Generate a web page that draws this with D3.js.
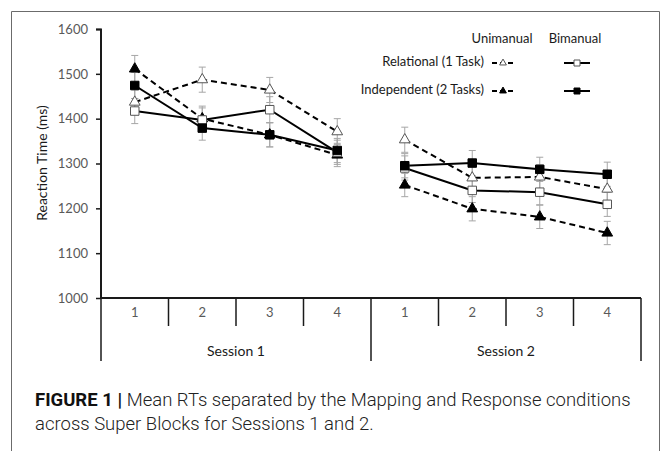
<!DOCTYPE html>
<html>
<head>
<meta charset="utf-8">
<script src="https://cdn.jsdelivr.net/npm/d3@7"></script>
<style>
  html, body { margin: 0; padding: 0; background: #fff; }
  svg { display: block; }
  .chart-text { font-family: Lato, "Liberation Sans", Arial, sans-serif; }
  .caption { font-family: Roboto, "Liberation Sans", Arial, sans-serif; }
</style>
</head>
<body>
<svg id="fig" width="670" height="451"></svg>
<script>
// Sessions and super blocks on the category axis
const sessions = ["Session 1", "Session 2"];
const blocks = ["1", "2", "3", "4"];
const yTicks = [1000, 1100, 1200, 1300, 1400, 1500, 1600];

// Mean RTs (ms) per super block, Session 1 blocks 1-4 then Session 2 blocks 1-4
const uniRelational = [1437, 1487, 1464, 1371, 1353, 1268, 1270, 1243];
const uniIndependent = [1511, 1400, 1364, 1319, 1252, 1199, 1181, 1145];
const biRelational = [1417, 1397, 1420, 1325, 1290, 1240, 1236, 1209];
const biIndependent = [1474, 1379, 1364, 1329, 1295, 1301, 1287, 1276];

// Error bar half-lengths (ms)
const uniRelationalErr = [27, 28, 28, 29, 28, 26, 27, 26];
const uniIndependentErr = [30, 28, 27, 26, 26, 27, 26, 26];
const biRelationalErr = [28, 27, 29, 27, 27, 27, 28, 27];
const biIndependentErr = [29, 27, 27, 27, 27, 28, 27, 27];

const svg = d3.select("#fig");

// Outer figure frame
svg.append("path")
  .attr("d", "M11.5,451 L11.5,11.5 L659.5,11.5 L659.5,451")
  .attr("fill", "none").attr("stroke", "#6b6b6b").attr("stroke-width", 1);

// Scales
const y = d3.scaleLinear().domain([1000, 1600]).range([298, 29]);
const catKeys = [];
sessions.forEach((s, si) => blocks.forEach(b => catKeys.push(si + "-" + b)));
const xBand = d3.scaleBand().domain(catKeys).range([101, 641]).padding(0);
const xc = i => xBand(catKeys[i]) + xBand.bandwidth() / 2;

// Y axis
const yAxis = d3.axisLeft(y).tickValues(yTicks).tickFormat(d3.format("d")).tickSize(5).tickPadding(8);
const gy = svg.append("g").attr("transform", "translate(101,0)").call(yAxis);
gy.select(".domain").attr("stroke", "#1a1a1a").attr("stroke-width", 2).attr("d", "M-5,29.5H0V298");
gy.selectAll(".tick line").attr("stroke", "#1a1a1a").attr("stroke-width", 1.5);
gy.selectAll(".tick text").attr("class", "chart-text").attr("fill", "#595959").attr("font-size", 13);

svg.append("text").attr("class", "chart-text")
  .attr("transform", "translate(43,163) rotate(-90)")
  .attr("text-anchor", "middle").attr("dominant-baseline", "middle")
  .attr("font-size", 14).attr("fill", "#1a1a1a")
  .text("Reaction Time (ms)");

// Category axis (table style)
const axisCol = "#1a1a1a";
const xEnd = xBand.range()[1];
const gx = svg.append("g");
gx.append("line").attr("x1", 100).attr("x2", xEnd).attr("y1", 298).attr("y2", 298)
  .attr("stroke", axisCol).attr("stroke-width", 2);
catKeys.forEach((c, i) => {
  const x0 = xBand(c);
  const isSessionEdge = i % blocks.length === 0;
  gx.append("line").attr("x1", x0).attr("x2", x0).attr("y1", 298)
    .attr("y2", isSessionEdge ? 361 : 326)
    .attr("stroke", axisCol).attr("stroke-width", 1.5);
  gx.append("text").attr("class", "chart-text")
    .attr("x", xc(i)).attr("y", 314)
    .attr("text-anchor", "middle").attr("dominant-baseline", "middle")
    .attr("font-size", 13).attr("fill", "#595959")
    .text(c.split("-")[1]);
});
gx.append("line").attr("x1", xEnd).attr("x2", xEnd).attr("y1", 298).attr("y2", 361)
  .attr("stroke", axisCol).attr("stroke-width", 1.5);
sessions.forEach((s, si) => {
  const a = xBand(si + "-" + blocks[0]);
  const b = xBand(si + "-" + blocks[blocks.length - 1]) + xBand.bandwidth();
  gx.append("text").attr("class", "chart-text")
    .attr("x", (a + b) / 2).attr("y", 352)
    .attr("text-anchor", "middle").attr("dominant-baseline", "middle")
    .attr("font-size", 14).attr("fill", "#1a1a1a")
    .text(s);
});

// Series definitions
const series = [
  { name: "uniRel", values: uniRelational, err: uniRelationalErr, dash: "6,4", marker: "tri", fill: "#fff" },
  { name: "uniInd", values: uniIndependent, err: uniIndependentErr, dash: "6,4", marker: "tri", fill: "#000" },
  { name: "biRel", values: biRelational, err: biRelationalErr, dash: null, marker: "sq", fill: "#fff" },
  { name: "biInd", values: biIndependent, err: biIndependentErr, dash: null, marker: "sq", fill: "#000" }
];

const triPath = d3.symbol().type(d3.symbolTriangle).size(50)();
const sqPath = d3.symbol().type(d3.symbolSquare).size(72)();

// Error bars
const gErr = svg.append("g");
series.forEach(s => {
  s.values.forEach((v, i) => {
    const cx = xc(i), e = s.err[i];
    gErr.append("line").attr("x1", cx).attr("x2", cx).attr("y1", y(v - e)).attr("y2", y(v + e))
      .attr("stroke", "#a6a6a6").attr("stroke-width", 1);
    [v - e, v + e].forEach(t => gErr.append("line")
      .attr("x1", cx - 3.5).attr("x2", cx + 3.5).attr("y1", y(t)).attr("y2", y(t))
      .attr("stroke", "#a6a6a6").attr("stroke-width", 1));
  });
});

// Lines, split per session
const line = d3.line().x(d => xc(d.i)).y(d => y(d.v));
const gLines = svg.append("g");
series.forEach(s => {
  sessions.forEach((_, si) => {
    const pts = s.values.map((v, i) => ({ v, i })).filter(d => Math.floor(d.i / blocks.length) === si);
    gLines.append("path").datum(pts).attr("d", line)
      .attr("fill", "none").attr("stroke", "#000").attr("stroke-width", 2)
      .attr("stroke-dasharray", s.dash);
  });
});

// Markers
const gMarks = svg.append("g");
series.forEach(s => {
  s.values.forEach((v, i) => {
    gMarks.append("path")
      .attr("d", s.marker === "tri" ? triPath : sqPath)
      .attr("transform", `translate(${xc(i)},${y(v)})`)
      .attr("fill", s.fill).attr("stroke", s.fill === "#fff" ? "#555" : "#000").attr("stroke-width", 1);
  });
});

// Legend
const lg = svg.append("g").attr("class", "chart-text");
lg.append("text").attr("x", 502).attr("y", 40).attr("text-anchor", "middle")
  .attr("dominant-baseline", "middle").attr("font-size", 13).attr("fill", "#1a1a1a").text("Unimanual");
lg.append("text").attr("x", 575).attr("y", 40).attr("text-anchor", "middle")
  .attr("dominant-baseline", "middle").attr("font-size", 13).attr("fill", "#1a1a1a").text("Bimanual");
const legendRows = [
  { label: "Relational (1 Task)", y: 63, uni: series[0], bi: series[2] },
  { label: "Independent (2 Tasks)", y: 91, uni: series[1], bi: series[3] }
];
const triSmall = d3.symbol().type(d3.symbolTriangle).size(20)();
const sqSmall = d3.symbol().type(d3.symbolSquare).size(36)();
legendRows.forEach(r => {
  lg.append("text").attr("x", 484).attr("y", r.y).attr("text-anchor", "end")
    .attr("dominant-baseline", "middle").attr("font-size", 13).attr("fill", "#1a1a1a").text(r.label);
  lg.append("line").attr("x1", 492).attr("x2", 514).attr("y1", r.y).attr("y2", r.y)
    .attr("stroke", "#000").attr("stroke-width", 2).attr("stroke-dasharray", "5,3");
  lg.append("path").attr("d", triSmall).attr("transform", `translate(503,${r.y})`)
    .attr("fill", r.uni.fill).attr("stroke", r.uni.fill === "#fff" ? "#555" : "#000").attr("stroke-width", 1);
  lg.append("line").attr("x1", 564).attr("x2", 590).attr("y1", r.y).attr("y2", r.y)
    .attr("stroke", "#000").attr("stroke-width", 2);
  lg.append("path").attr("d", sqSmall).attr("transform", `translate(577,${r.y})`)
    .attr("fill", r.bi.fill).attr("stroke", r.bi.fill === "#fff" ? "#555" : "#000").attr("stroke-width", 1);
});

// Caption, sized so the first line spans the text block width
const capSize0 = 16.5, capWidth = 599;
const cap = svg.append("text").attr("class", "caption").attr("font-size", capSize0).attr("fill", "#222");
const l1 = cap.append("tspan").attr("x", 35).attr("y", 406);
l1.append("tspan").attr("font-weight", 700).attr("fill", "#111").text("FIGURE 1 | ");
l1.append("tspan").attr("font-weight", 300).text("Mean RTs separated by the Mapping and Response conditions");
const w1 = l1.node().getComputedTextLength();
const l2 = cap.append("tspan").attr("x", 35).attr("y", 430).attr("font-weight", 300)
  .text("across Super Blocks for Sessions 1 and 2.");
if (w1 > 0) cap.attr("font-size", Math.min(18.5, capSize0 * capWidth / w1));
</script>
</body>
</html>
